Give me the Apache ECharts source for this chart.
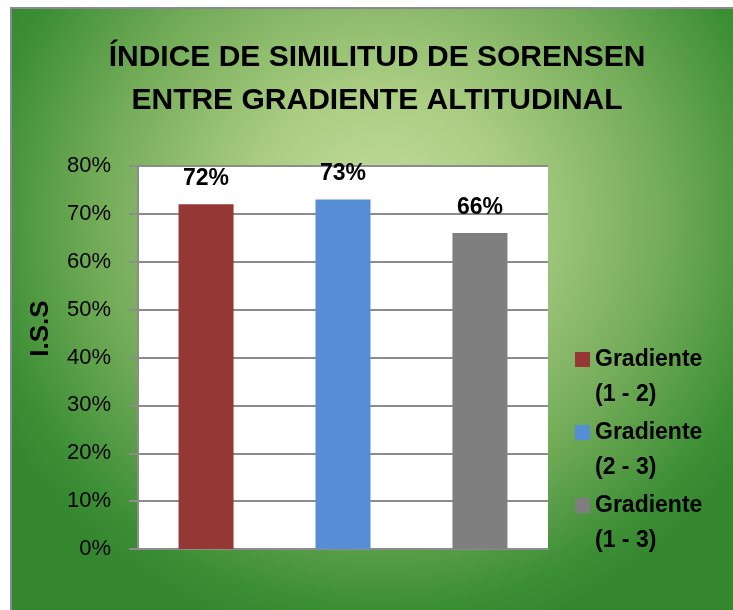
<!DOCTYPE html>
<html>
<head>
<meta charset="utf-8">
<script src="https://cdn.jsdelivr.net/npm/echarts@6/dist/echarts.min.js"></script>
<style>
  html, body { margin: 0; padding: 0; background: #fff; }
  #panel {
    position: absolute; left: 10px; top: 7px; width: 721px; height: 601px;
    border-left: 2px solid #8a8a8a; border-top: 2px solid #8a8a8a;
    background: radial-gradient(ellipse 440px 430px at 370px 210px, #c4dda0 0%, #abcd82 30%, #72ab57 65%, #3d8f36 90%, #34872f 100%);
  }
  #main { position: absolute; left: 0; top: 0; width: 733px; height: 610px; }
</style>
</head>
<body>
<div id="panel"></div>
<div id="main"></div>
<script>
  // data
  var seriesNames = ["Gradiente\n(1 - 2)", "Gradiente\n(2 - 3)", "Gradiente\n(1 - 3)"];
  var seriesValues = [0.72, 0.73, 0.66];
  var seriesColors = ["#953735", "#558ed5", "#7f7f7f"];
  var categories = [""];
  var yTicks = { min: 0, max: 0.8, interval: 0.1 };

  var chart = echarts.init(document.getElementById("main"));

  function pct(v) {
    return Math.round(v * 100) + "%";
  }

  var series = seriesNames.map(function (name, i) {
    return {
      name: name,
      type: "bar",
      data: [seriesValues[i]],
      barWidth: 55,
      barGap: "149%",
      itemStyle: { color: seriesColors[i] },
      label: {
        show: true,
        position: "top",
        distance: 14,
        formatter: function (p) { return pct(p.value); },
        fontFamily: "Liberation Sans",
        fontWeight: "bold",
        fontSize: 23,
        color: "#000"
      }
    };
  });

  // square sitting next to the first line of a two line legend text
  var legendIcon = "path://M0,0M0,10H15V25H0Z M15,70";

  var option = {
    animation: false,
    backgroundColor: "transparent",
    title: {
      text: "ÍNDICE DE SIMILITUD DE SORENSEN\nENTRE GRADIENTE ALTITUDINAL",
      left: 372,
      top: 31,
      textAlign: "center",
      textStyle: {
        fontFamily: "Liberation Sans",
        fontWeight: "bold",
        fontSize: 30,
        lineHeight: 43,
        color: "#000"
      }
    },
    legend: {
      orient: "vertical",
      left: 570,
      top: 337,
      itemWidth: 15,
      itemHeight: 70,
      itemGap: 3,
      icon: legendIcon,
      textStyle: {
        fontFamily: "Liberation Sans",
        fontWeight: "bold",
        fontSize: 23,
        lineHeight: 35,
        color: "#000"
      }
    },
    grid: {
      left: 138,
      right: 185,
      top: 166,
      bottom: 61,
      show: true,
      backgroundColor: "#fff",
      borderWidth: 0
    },
    xAxis: {
      type: "category",
      data: categories,
      axisLine: { lineStyle: { color: "#8c8c8c", width: 2 } },
      axisTick: { show: false },
      axisLabel: { show: false }
    },
    yAxis: {
      type: "value",
      min: yTicks.min,
      max: yTicks.max,
      interval: yTicks.interval,
      name: "I.S.S",
      nameLocation: "middle",
      nameGap: 84,
      nameTextStyle: {
        fontFamily: "Liberation Sans",
        fontWeight: "bold",
        fontSize: 26,
        color: "#000",
        padding: [0, 0, 0, 58]
      },
      axisLine: { show: true, lineStyle: { color: "#8c8c8c", width: 2 } },
      axisTick: { show: true, length: 9, lineStyle: { color: "#8c8c8c", width: 2 } },
      splitLine: { lineStyle: { color: "#8c8c8c", width: 2 } },
      axisLabel: {
        formatter: pct,
        margin: 27,
        fontFamily: "Liberation Sans",
        fontSize: 22,
        color: "#000"
      }
    },
    series: series
  };

  chart.setOption(option);
</script>
</body>
</html>
